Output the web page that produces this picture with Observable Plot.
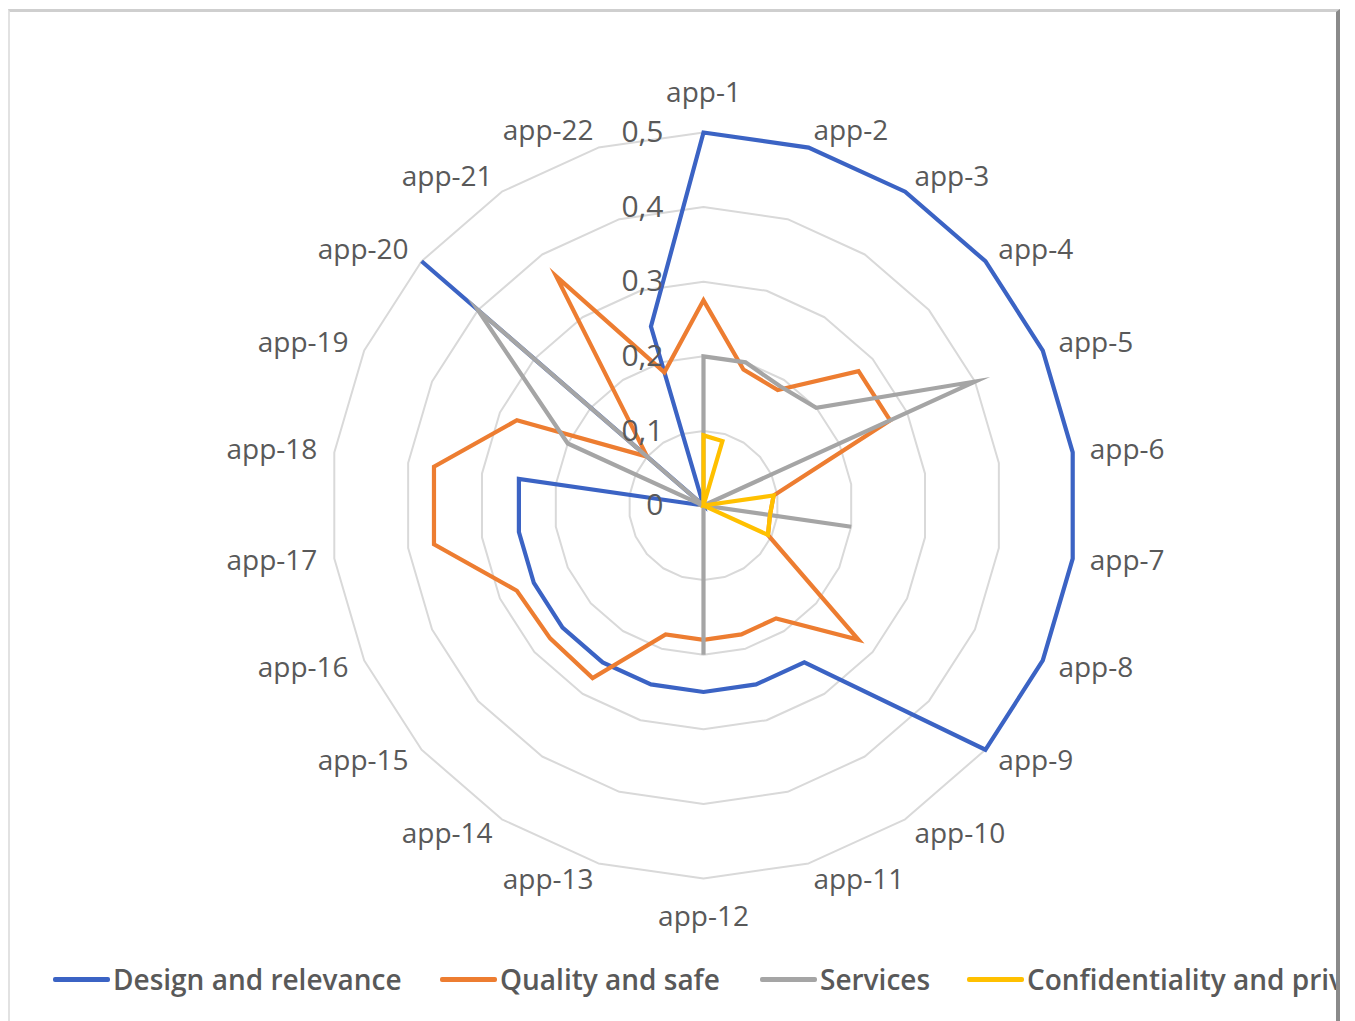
<!DOCTYPE html>
<html>
<head>
<meta charset="utf-8">
<script src="https://cdn.jsdelivr.net/npm/d3@7"></script>
<script src="https://cdn.jsdelivr.net/npm/@observablehq/plot@0.6"></script>
<style>
  html, body { margin: 0; padding: 0; background: #fff; }
  body { width: 1355px; height: 1021px; position: relative; overflow: hidden; font-family: "Open Sans", sans-serif; }
  #chart { position: absolute; left: 0; top: 0; }
  #frame { position: absolute; left: 8px; top: 9px; width: 1332px; height: 1030px;
           border-top: 3px solid #cfcfcf; border-left: 2px solid #e2e2e2; border-right: 4px solid #8a8a8a;
           pointer-events: none; box-sizing: border-box; }
  #legend { position: absolute; left: 10px; top: 956px; width: 1326px; height: 46px; overflow: hidden; }
  .item { position: absolute; top: 0; height: 46px; display: flex; align-items: center; white-space: nowrap;
          color: #595959; font-size: 28px; font-weight: 600; letter-spacing: 0px; }
  .sw { display: inline-block; width: 57px; height: 5px; margin-right: 3px; border-radius: 2px; }
</style>
</head>
<body>
<div id="chart"></div>
<div id="legend"></div>
<div id="frame"></div>
<script>
// ---- data ----
const apps = ["app-1","app-2","app-3","app-4","app-5","app-6","app-7","app-8","app-9","app-10","app-11",
              "app-12","app-13","app-14","app-15","app-16","app-17","app-18","app-19","app-20","app-21","app-22"];
const seriesNames = ["Design and relevance", "Quality and safe", "Services", "Confidentiality and privacy"];
const seriesColors = ["#3b63c4", "#ed7d31", "#a5a5a5", "#ffc000"];
const design          = [0.5, 0.5, 0.5, 0.5, 0.5, 0.5, 0.5, 0.5, 0.5, 0.25, 0.25, 0.25, 0.25, 0.25, 0.25, 0.25, 0.25, 0.25, 0, 0.5, 0, 0.25];
const quality         = [0.275, 0.19, 0.184, 0.275, 0.275, 0.095, 0.09, 0.095, 0.275, 0.18, 0.18, 0.18, 0.18, 0.275, 0.272, 0.275, 0.365, 0.365, 0.275, 0.1, 0.365, 0.186];
const services        = [0.2, 0.2, 0.19, 0.2, 0.4, 0, 0.2, 0, 0, 0, 0, 0.2, 0, 0, 0, 0, 0, 0, 0.2, 0.4, 0, 0];
const confidentiality = [0.094, 0.09, 0, 0, 0, 0.095, 0.09, 0.095, 0, 0, 0, 0, 0, 0, 0, 0, 0, 0, 0, 0, 0, 0];
const tickValues = [0, 0.1, 0.2, 0.3, 0.4, 0.5];
const tickLabels = ["0", "0,1", "0,2", "0,3", "0,4", "0,5"];

// ---- build polar table ----
const n = apps.length;
const ang = i => (2 * Math.PI * i) / n;
const allSeries = [design, quality, services, confidentiality];
const rows = [];
allSeries.forEach((vals, s) => {
  vals.forEach((v, i) => rows.push({series: seriesNames[s], app: apps[i], value: v,
    x: v * Math.sin(ang(i)), y: v * Math.cos(ang(i))}));
});
const rings = [];
tickValues.slice(1).forEach(t => apps.forEach((a, i) =>
  rings.push({ring: t, x: t * Math.sin(ang(i)), y: t * Math.cos(ang(i))})));
const maxV = 0.5;
const labelR = maxV * 1.046;
const labelRows = apps.map((a, i) => {
  const s = Math.sin(ang(i)), c = Math.cos(ang(i));
  const vertical = Math.abs(s) < 0.01;
  return {app: a, x: labelR * s, y: labelR * c,
          anchor: vertical ? "middle" : (s > 0 ? "start" : "end"),
          dy: vertical ? (c > 0 ? -22 : 21) : 0};
});
const ticks = tickValues.map((t, i) => ({v: t, label: tickLabels[i]}));

const R = 373, cx = 703, cy = 505;
const plot = Plot.plot({
  width: 1355, height: 950,
  margin: 0,
  x: {domain: [-maxV, maxV], range: [cx - R, cx + R]},
  y: {domain: [-maxV, maxV], range: [cy + R, cy - R]},
  color: {domain: seriesNames, range: seriesColors},
  axis: null,
  style: {fontFamily: "'Open Sans', sans-serif", background: "transparent", overflow: "visible"},
  marks: [
    Plot.line(rings, {x: "x", y: "y", z: "ring", curve: "linear-closed", stroke: "#d9d9d9", strokeWidth: 2}),
    Plot.line(rows, {x: "x", y: "y", z: "series", stroke: "series", curve: "linear-closed",
                     strokeWidth: 4.2, strokeLinejoin: "miter", strokeMiterlimit: 10}),
    Plot.text(ticks, {x: 0, y: "v", text: "label", textAnchor: "end", dx: -40, fontSize: 30, fill: "#595959"}),
    Plot.text(labelRows.filter(d => d.anchor === "start"), {x: "x", y: "y", text: "app", textAnchor: "start", fontSize: 28, fill: "#595959"}),
    Plot.text(labelRows.filter(d => d.anchor === "end"), {x: "x", y: "y", text: "app", textAnchor: "end", fontSize: 28, fill: "#595959"}),
    Plot.text(labelRows.filter(d => d.anchor === "middle" && d.dy < 0), {x: "x", y: "y", text: "app", textAnchor: "middle", dy: -22, fontSize: 28, fill: "#595959"}),
    Plot.text(labelRows.filter(d => d.anchor === "middle" && d.dy > 0), {x: "x", y: "y", text: "app", textAnchor: "middle", dy: 21, fontSize: 28, fill: "#595959"}),
  ]
});
document.getElementById("chart").appendChild(plot);

// ---- legend ----
const legendX = [43, 430, 750, 957];
const legend = document.getElementById("legend");
seriesNames.forEach((name, i) => {
  const it = document.createElement("div");
  it.className = "item";
  it.style.left = legendX[i] + "px";
  const sw = document.createElement("span");
  sw.className = "sw";
  sw.style.background = seriesColors[i];
  it.appendChild(sw);
  it.appendChild(document.createTextNode(name));
  legend.appendChild(it);
});
</script>
</body>
</html>
